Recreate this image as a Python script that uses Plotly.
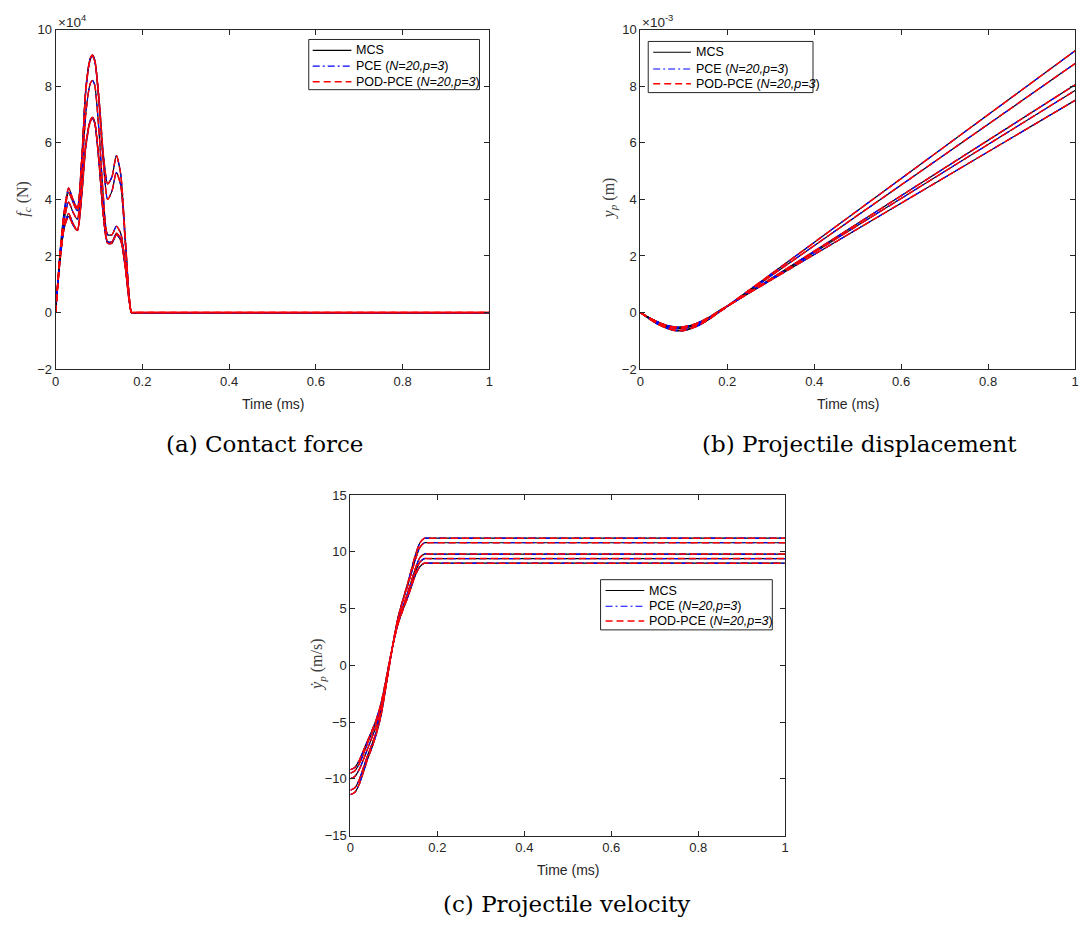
import plotly.graph_objects as go

# ---------------- data ----------------
# (a) contact force, x 1e4 N
t_force = [0, 0.01, 0.02, 0.03, 0.04, 0.05, 0.06, 0.07, 0.08, 0.085, 0.09, 0.10,
           0.11, 0.12, 0.13, 0.14, 0.15, 0.16, 0.17, 0.175, 0.18, 0.2, 1.0]
force_1 = [0, 2.1, 3.6, 4.4, 4.0, 3.7, 5.4, 8.0, 9.0, 9.1, 8.95, 7.6, 5.6, 4.55, 4.8, 5.55, 4.9, 2.8, 0.5, 0, 0, 0, 0]
force_2 = [0, 2.05, 3.5, 4.25, 3.9, 3.6, 5.3, 7.9, 8.95, 9.05, 8.9, 7.4, 5.3, 4.0, 4.3, 4.95, 4.5, 2.6, 0.5, 0, 0, 0, 0]
force_3 = [0, 1.95, 3.3, 3.9, 3.55, 3.3, 4.8, 7.1, 8.1, 8.2, 8.05, 6.4, 4.1, 2.75, 2.75, 3.05, 2.8, 1.8, 0.4, 0, 0, 0, 0]
force_4 = [0, 1.85, 3.05, 3.5, 3.15, 2.9, 4.2, 6.0, 6.8, 6.9, 6.75, 5.4, 3.5, 2.5, 2.5, 2.8, 2.6, 1.7, 0.4, 0, 0, 0, 0]
force_5 = [0, 1.8, 3.0, 3.4, 3.1, 2.9, 4.1, 5.9, 6.75, 6.85, 6.7, 5.3, 3.4, 2.45, 2.45, 2.75, 2.55, 1.65, 0.35, 0, 0, 0, 0]

# (b) projectile displacement, x 1e-3 m
t_disp = [0, 0.02, 0.04, 0.06, 0.08, 0.10, 0.12, 0.14, 0.16, 0.18, 0.2, 0.3, 1.0]
disp_1 = [0, -0.22, -0.41, -0.55, -0.64, -0.64, -0.55, -0.41, -0.22, 0.0, 0.23, 1.35, 9.25]
disp_2 = [0, -0.21, -0.40, -0.53, -0.62, -0.62, -0.53, -0.40, -0.21, 0.0, 0.21, 1.29, 8.8]
disp_3 = [0, -0.19, -0.36, -0.49, -0.56, -0.56, -0.48, -0.36, -0.19, 0.01, 0.21, 1.19, 8.05]
disp_4 = [0, -0.18, -0.34, -0.46, -0.53, -0.53, -0.45, -0.33, -0.17, 0.03, 0.22, 1.17, 7.85]
disp_5 = [0, -0.18, -0.33, -0.45, -0.51, -0.50, -0.43, -0.31, -0.15, 0.05, 0.23, 1.14, 7.5]

# (c) projectile velocity, m/s
t_vel = [0, 0.01, 0.02, 0.03, 0.04, 0.05, 0.06, 0.07, 0.08, 0.09, 0.10, 0.11, 0.12,
         0.13, 0.14, 0.15, 0.16, 0.17, 0.18, 0.2, 1.0]
vel_1 = [-11.4, -11.2, -10.5, -9.4, -8.2, -7.2, -6.0, -4.5, -2.3, 0.1, 2.4, 4.3, 5.7, 7.0, 8.4, 9.8, 10.8, 11.2, 11.2, 11.2, 11.2]
vel_2 = [-11.0, -10.8, -10.1, -9.0, -7.9, -6.9, -5.8, -4.3, -2.2, 0.1, 2.3, 4.2, 5.6, 6.8, 8.1, 9.4, 10.4, 10.8, 10.8, 10.8, 10.8]
vel_3 = [-10.0, -9.8, -9.2, -8.3, -7.3, -6.3, -5.3, -3.9, -2.0, 0.2, 2.2, 3.9, 5.1, 6.2, 7.4, 8.6, 9.5, 9.8, 9.8, 9.8, 9.8]
vel_4 = [-9.5, -9.3, -8.7, -7.8, -6.8, -5.9, -4.9, -3.6, -1.8, 0.3, 2.2, 3.8, 4.9, 6.0, 7.1, 8.3, 9.1, 9.4, 9.4, 9.4, 9.4]
vel_5 = [-9.2, -9.0, -8.4, -7.5, -6.6, -5.7, -4.7, -3.4, -1.6, 0.4, 2.2, 3.7, 4.8, 5.8, 6.9, 8.0, 8.7, 9.0, 9.0, 9.0, 9.0]

x_ticks = [0, 0.2, 0.4, 0.6, 0.8, 1]
x_ticklabels = ["0", "0.2", "0.4", "0.6", "0.8", "1"]
methods = ["MCS", "PCE (<i>N=20,p=3</i>)", "POD-PCE (<i>N=20,p=3</i>)"]
captions = ["(a) Contact force", "(b) Projectile displacement", "(c) Projectile velocity"]

# ---------------- styles ----------------
W, H = 1087, 938
method_styles = [
    dict(color="#000000", dash="solid", width=1.2),
    dict(color="#0000ff", dash="7px,3px,2px,3px", width=1.2),
    dict(color="#ff0000", dash="7px,4px", width=1.5),
]
AX = "#262626"
SANS = "Liberation Sans, Arial, sans-serif"
SERIF = "Liberation Serif, Times New Roman, serif"
CAPFONT = "DejaVu Serif, serif"
TICKFONT = dict(family=SANS, size=13, color=AX)

panels = [
    dict(t=t_force, series=[force_1, force_2, force_3, force_4, force_5], xa="x", ya="y"),
    dict(t=t_disp, series=[disp_1, disp_2, disp_3, disp_4, disp_5], xa="x2", ya="y2"),
    dict(t=t_vel, series=[vel_1, vel_2, vel_3, vel_4, vel_5], xa="x3", ya="y3"),
]

fig = go.Figure()
for p in panels:
    for mi, m in enumerate(methods):
        st = method_styles[mi]
        for ys in p["series"]:
            fig.add_trace(go.Scatter(
                x=p["t"], y=ys, mode="lines", name=m,
                line=dict(color=st["color"], dash=st["dash"], width=st["width"],
                          shape="spline", smoothing=0.7),
                xaxis=p["xa"], yaxis=p["ya"], showlegend=False, hoverinfo="skip"))

def px_x(a, b):
    return [a / W, b / W]

def px_y(top, bottom):
    return [1 - bottom / H, 1 - top / H]

def xaxis(domain, anchor):
    return dict(domain=domain, anchor=anchor, range=[0, 1], tickvals=x_ticks,
                ticktext=x_ticklabels, ticks="inside", ticklen=5, tickcolor=AX,
                showline=True, linecolor=AX, linewidth=1, mirror="ticks",
                showgrid=False, zeroline=False, tickfont=TICKFONT, fixedrange=True)

def yaxis(domain, anchor, rng, dtick):
    return dict(domain=domain, anchor=anchor, range=rng, dtick=dtick, tick0=rng[0],
                ticks="inside", ticklen=5, tickcolor=AX, showline=True, linecolor=AX,
                linewidth=1, mirror="ticks", showgrid=False, zeroline=False,
                tickfont=TICKFONT, fixedrange=True)

fig.update_layout(
    width=W, height=H, paper_bgcolor="white", plot_bgcolor="white",
    margin=dict(l=0, r=0, t=0, b=0), showlegend=False,
    xaxis=xaxis(px_x(52, 489), "y"),
    yaxis=yaxis(px_y(23, 368), "x", [-2, 10], 2),
    xaxis2=xaxis(px_x(641, 1079), "y2"),
    yaxis2=yaxis(px_y(23, 368), "x2", [-2, 10], 2),
    xaxis3=xaxis(px_x(349, 787), "y3"),
    yaxis3=yaxis(px_y(496, 842), "x3", [-15, 15], 5),
)

ann = []
shapes = []
def add_text(x, y, text, size, family, color="#262626", angle=0, xanchor="center", yanchor="middle"):
    ann.append(dict(x=x / W, y=1 - y / H, xref="paper", yref="paper", text=text,
                    showarrow=False, font=dict(size=size, family=family, color=color),
                    textangle=angle, xanchor=xanchor, yanchor=yanchor))

# legends (box, sample lines, labels) in pixel positions
legend_boxes = [
    dict(x0=307, x1=479, y0=33, y1=84, lx0=311, lx1=350, tx=353, ys=[44, 60, 76]),
    dict(x0=649, x1=815, y0=35, y1=87, lx0=654, lx1=692, tx=695, ys=[46, 63, 78]),
    dict(x0=601, x1=774, y0=582, y1=633, lx0=606, lx1=645, tx=648, ys=[593, 609, 624]),
]
for lb in legend_boxes:
    shapes.append(dict(type="rect", xref="paper", yref="paper",
                       x0=lb["x0"] / W, x1=lb["x1"] / W, y0=1 - lb["y1"] / H, y1=1 - lb["y0"] / H,
                       line=dict(color=AX, width=1), fillcolor="white", layer="above"))
    for mi, m in enumerate(methods):
        st = method_styles[mi]
        yy = 1 - lb["ys"][mi] / H
        shapes.append(dict(type="line", xref="paper", yref="paper",
                           x0=lb["lx0"] / W, x1=lb["lx1"] / W, y0=yy, y1=yy,
                           line=dict(color=st["color"], width=st["width"], dash=st["dash"]),
                           layer="above"))
        add_text(lb["tx"], lb["ys"][mi], m, 12.5, SANS, color="#000000", xanchor="left")

# x titles
add_text(271, 403, "Time (ms)", 14, SANS)
add_text(850, 403, "Time (ms)", 14, SANS)
add_text(568, 877, "Time (ms)", 14, SANS)
# y titles
add_text(20, 195, "<i>f<sub>c</sub></i> (N)", 16, SERIF, color="#404040", angle=-90)
add_text(610, 195, "<i>y<sub>p</sub></i> (m)", 16, SERIF, color="#404040", angle=-90)
add_text(316, 669, "<i>ẏ<sub>p</sub></i> (m/s)", 16, SERIF, color="#404040", angle=-90)
# exponent labels
add_text(52, 14, "×10<sup>4</sup>", 13.5, SANS, xanchor="left")
add_text(641, 14, "×10<sup>-3</sup>", 13.5, SANS, xanchor="left")
# captions
add_text(262, 444, captions[0], 23, CAPFONT, color="#000000")
add_text(862, 444, captions[1], 23, CAPFONT, color="#000000")
add_text(567, 912, captions[2], 23, CAPFONT, color="#000000")

fig.update_layout(annotations=ann, shapes=shapes)
fig.write_html("out.html", config={"displayModeBar": False},
               post_script="document.body.style.margin='0px';document.body.style.overflow='hidden';")
